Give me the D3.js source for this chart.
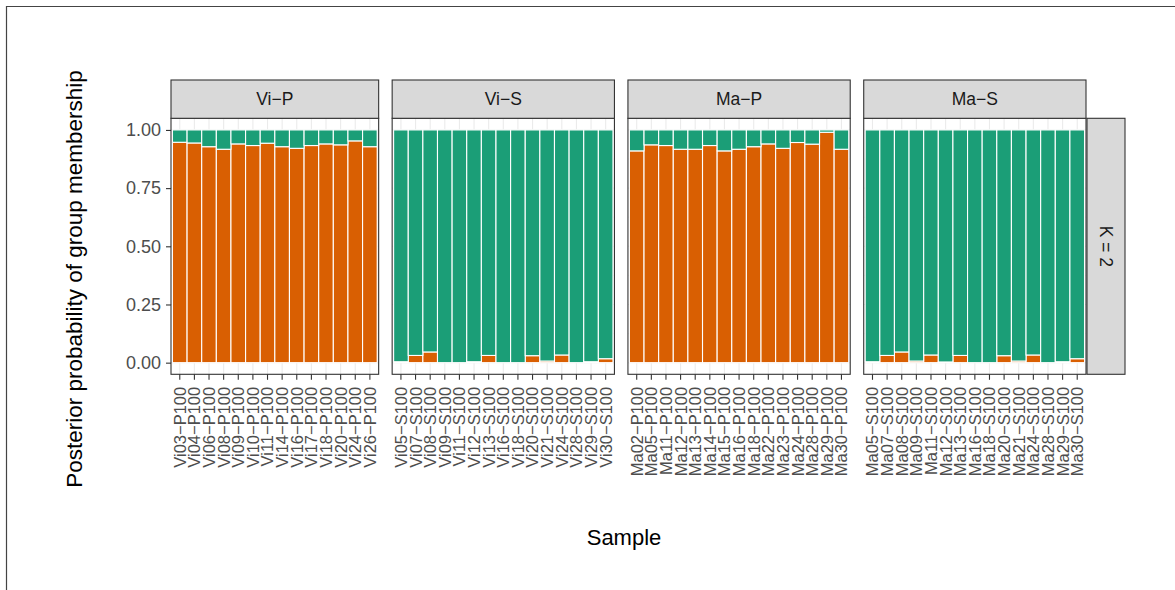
<!DOCTYPE html>
<html>
<head>
<meta charset="utf-8">
<script src="https://cdn.jsdelivr.net/npm/d3@7"></script>
<style>
  html, body { margin: 0; padding: 0; background: #fff; }
  svg { display: block; font-family: "Liberation Sans", Arial, Helvetica, sans-serif; }
</style>
</head>
<body>
<svg id="chart" width="1175" height="590"></svg>
<script>
// ---------- data ----------
const panels = ["Vi-P", "Vi-S", "Ma-P", "Ma-S"];
const rowLabel = "K = 2";
const clusters = ["1", "2"];          // 1 = orange (bottom), 2 = green (top)
const yTicks = [0, 0.25, 0.5, 0.75, 1];
const yTickLabels = ["0.00", "0.25", "0.50", "0.75", "1.00"];

const samplesViP = ["Vi03-P100","Vi04-P100","Vi06-P100","Vi08-P100","Vi09-P100","Vi10-P100","Vi11-P100","Vi14-P100","Vi16-P100","Vi17-P100","Vi18-P100","Vi20-P100","Vi24-P100","Vi26-P100"];
const q1ViP = [0.947,0.944,0.928,0.917,0.940,0.933,0.943,0.928,0.921,0.933,0.940,0.936,0.953,0.928];

const samplesViS = ["Vi05-S100","Vi07-S100","Vi08-S100","Vi09-S100","Vi11-S100","Vi12-S100","Vi13-S100","Vi16-S100","Vi18-S100","Vi20-S100","Vi21-S100","Vi24-S100","Vi28-S100","Vi29-S100","Vi30-S100"];
const q1ViS = [0.004,0.031,0.046,0,0,0.004,0.031,0,0,0.030,0.007,0.033,0,0.004,0.017];

const samplesMaP = ["Ma02-P100","Ma05-P100","Ma11-P100","Ma12-P100","Ma13-P100","Ma14-P100","Ma15-P100","Ma16-P100","Ma18-P100","Ma22-P100","Ma23-P100","Ma24-P100","Ma28-P100","Ma29-P100","Ma30-P100"];
const q1MaP = [0.910,0.936,0.933,0.917,0.917,0.933,0.910,0.917,0.928,0.940,0.921,0.946,0.939,0.990,0.917];

const samplesMaS = ["Ma05-S100","Ma07-S100","Ma08-S100","Ma09-S100","Ma11-S100","Ma12-S100","Ma13-S100","Ma16-S100","Ma18-S100","Ma20-S100","Ma21-S100","Ma24-S100","Ma28-S100","Ma29-S100","Ma30-S100"];
const q1MaS = [0.004,0.031,0.046,0.007,0.033,0.003,0.031,0,0,0.030,0.007,0.033,0,0.004,0.017];

const xTitle = "Sample";
const yTitle = "Posterior probability of group membership";

// ---------- layout ----------
const colors = d3.scaleOrdinal().domain(clusters).range(["#D95F02", "#1B9E77"]);
const panelData = [
  { name: panels[0], samples: samplesViP, q1: q1ViP },
  { name: panels[1], samples: samplesViS, q1: q1ViS },
  { name: panels[2], samples: samplesMaP, q1: q1MaP },
  { name: panels[3], samples: samplesMaS, q1: q1MaS }
];
const disp = s => s.replace(/-/g, "\u2212");

const svg = d3.select("#chart");
const W = 1175, H = 590;
const plotLeft = 171, plotRight = 1086, gap = 13.5;
const panelTop = 118.3, panelBottom = 374.3;
const stripTop = 80;
const rightStripW = 38;

// frame
svg.append("line").attr("x1", 6.5).attr("x2", 6.5).attr("y1", 6).attr("y2", H).attr("stroke", "#444").attr("stroke-width", 1.2);
svg.append("line").attr("x1", 6).attr("x2", W).attr("y1", 6.5).attr("y2", 6.5).attr("stroke", "#444").attr("stroke-width", 1.2);

const units = panelData.map(p => p.samples.length + 0.2);
const unitPx = (plotRight - plotLeft - gap * (panelData.length - 1)) / d3.sum(units);

const y = d3.scaleLinear().domain([-0.05, 1.05]).range([panelBottom, panelTop]);

let cx = plotLeft;
panelData.forEach((p, i) => {
  const w = units[i] * unitPx;
  const x0 = cx, x1 = cx + w;
  cx = x1 + gap;
  const x = d3.scaleBand().domain(p.samples).range([x0, x1]).paddingInner(0).paddingOuter(0.1);
  const g = svg.append("g");

  g.append("rect").attr("x", x0).attr("y", panelTop).attr("width", w).attr("height", panelBottom - panelTop).attr("fill", "#fff");
  const minor = [0.125, 0.375, 0.625, 0.875];
  g.selectAll(".gmin").data(minor).join("line")
    .attr("x1", x0).attr("x2", x1).attr("y1", d => y(d)).attr("y2", d => y(d))
    .attr("stroke", "#ebebeb").attr("stroke-width", 0.6);
  g.selectAll(".gy").data(yTicks).join("line")
    .attr("x1", x0).attr("x2", x1).attr("y1", d => y(d)).attr("y2", d => y(d))
    .attr("stroke", "#ebebeb").attr("stroke-width", 1.1);
  g.selectAll(".gx").data(p.samples).join("line")
    .attr("x1", d => x(d) + x.bandwidth() / 2).attr("x2", d => x(d) + x.bandwidth() / 2)
    .attr("y1", panelTop).attr("y2", panelBottom)
    .attr("stroke", "#ebebeb").attr("stroke-width", 1.1);

  const rows = p.samples.map((s, k) => ({ sample: s, "1": p.q1[k], "2": 1 - p.q1[k] }));
  const stack = d3.stack().keys(clusters)(rows);
  stack.forEach(layer => {
    g.selectAll(null).data(layer.filter(d => d[1] - d[0] > 0)).join("rect")
      .attr("x", d => x(d.data.sample))
      .attr("width", x.bandwidth())
      .attr("y", d => y(d[1]))
      .attr("height", d => Math.max(0, y(d[0]) - y(d[1])))
      .attr("fill", colors(layer.key))
      .attr("stroke", "#ffffff")
      .attr("stroke-width", 1.1);
  });

  g.append("rect").attr("x", x0).attr("y", panelTop).attr("width", w).attr("height", panelBottom - panelTop)
    .attr("fill", "none").attr("stroke", "#333").attr("stroke-width", 1.1);

  g.append("rect").attr("x", x0).attr("y", stripTop).attr("width", w).attr("height", panelTop - stripTop)
    .attr("fill", "#d9d9d9").attr("stroke", "#333").attr("stroke-width", 1.1);
  g.append("text").attr("x", (x0 + x1) / 2).attr("y", (stripTop + panelTop) / 2).attr("dy", "0.36em")
    .attr("text-anchor", "middle").attr("font-size", 17.5).attr("fill", "#1a1a1a").text(disp(p.name));

  const ax = g.append("g").attr("transform", `translate(0,${panelBottom})`)
    .call(d3.axisBottom(x).tickSize(5.5).tickPadding(0).tickFormat(disp));
  ax.select(".domain").remove();
  ax.selectAll(".tick line").attr("stroke", "#333").attr("stroke-width", 1.1);
  ax.selectAll(".tick text")
    .attr("font-size", 16.5).attr("fill", "#4d4d4d").attr("font-family", null)
    .attr("text-anchor", "end")
    .attr("transform", "translate(0,12.5) rotate(-90)")
    .attr("x", 0).attr("y", 0).attr("dy", "0.36em");

  if (i === 0) {
    const ay = g.append("g").attr("transform", `translate(${x0},0)`)
      .call(d3.axisLeft(y).tickValues(yTicks).tickSize(5).tickPadding(5).tickFormat((d, k) => yTickLabels[k]));
    ay.select(".domain").remove();
    ay.selectAll(".tick line").attr("stroke", "#333").attr("stroke-width", 1.1);
    ay.selectAll(".tick text").attr("font-size", 18).attr("fill", "#4d4d4d").attr("font-family", null);
  }
  if (i === panelData.length - 1) {
    g.append("rect").attr("x", x1 + 1).attr("y", panelTop).attr("width", rightStripW).attr("height", panelBottom - panelTop)
      .attr("fill", "#d9d9d9").attr("stroke", "#333").attr("stroke-width", 1.1);
    g.append("text").attr("transform", `translate(${x1 + 1 + rightStripW / 2},${(panelTop + panelBottom) / 2}) rotate(90)`)
      .attr("text-anchor", "middle").attr("dy", "0.36em").attr("font-size", 17.5).attr("fill", "#1a1a1a").text(rowLabel);
  }
});

svg.append("text").attr("x", 624).attr("y", 545)
  .attr("text-anchor", "middle").attr("font-size", 22).attr("fill", "#000").text(xTitle);
svg.append("text").attr("transform", `translate(82,279) rotate(-90)`)
  .attr("text-anchor", "middle").attr("font-size", 22.5).attr("fill", "#000").text(yTitle);
</script>
</body>
</html>
